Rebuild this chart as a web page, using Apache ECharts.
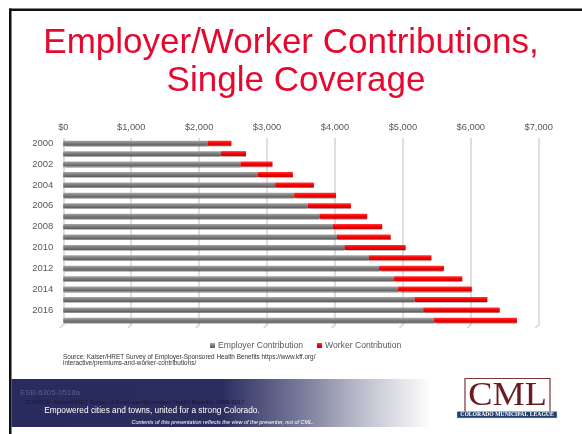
<!DOCTYPE html>
<html>
<head>
<meta charset="utf-8">
<script src="https://cdn.jsdelivr.net/npm/echarts@6/dist/echarts.min.js"></script>
<style>
  html, body { margin: 0; padding: 0; background: #ffffff; }
  #chart { width: 582px; height: 434px; }
</style>
</head>
<body>
<div id="chart"></div>
<script>
// Annual premium contributions, single coverage (US$)
var years = ['2000','2001','2002','2003','2004','2005','2006','2007','2008',
             '2009','2010','2011','2012','2013','2014','2015','2016','2017'];
var employerContribution = [2130, 2320, 2610, 2860, 3120, 3400, 3600, 3770, 3970,
                            4030, 4140, 4500, 4650, 4870, 4930, 5170, 5300, 5460];
var workerContribution = [345, 370, 470, 520, 570, 615, 635, 705, 725,
                          790, 900, 920, 955, 1005, 1085, 1075, 1125, 1220];
var xTicks = [0, 1000, 2000, 3000, 4000, 5000, 6000, 7000];

var FONT = '"Liberation Sans", Arial, sans-serif';
var SERIF = '"Liberation Serif", "DejaVu Serif", serif';

var chart = echarts.init(document.getElementById('chart'), null, { renderer: 'canvas' });

function moneyLabel(v) {
  return '$' + v.toLocaleString('en-US');
}

var option = {
  animation: false,
  backgroundColor: '#ffffff',
  textStyle: { fontFamily: FONT },
  grid: { left: 63.3, right: 43.3, top: 138, bottom: 108.5, containLabel: false },
  legend: {
    data: ['Employer Contribution', 'Worker Contribution'],
    left: 205,
    top: 336,
    icon: 'rect',
    itemWidth: 5,
    itemHeight: 5,
    itemGap: 14,
    textStyle: { fontSize: 8.6, color: '#595959', fontFamily: FONT, padding: [0, 0, 0, -2] }
  },
  xAxis: {
    type: 'value',
    position: 'top',
    min: 0,
    max: 7000,
    interval: 1000,
    axisLine: { show: false },
    axisTick: { show: false },
    axisLabel: {
      formatter: moneyLabel,
      fontSize: 9.3,
      color: '#595959',
      margin: 6,
      fontFamily: FONT
    },
    splitLine: { show: true, lineStyle: { color: '#d4d4d4', width: 1.5 } }
  },
  yAxis: {
    type: 'category',
    data: years,
    inverse: true,
    axisLine: { show: false },
    axisTick: { show: false },
    axisLabel: {
      interval: 1,
      fontSize: 9.5,
      color: '#595959',
      margin: 10,
      fontFamily: FONT
    }
  },
  series: [
    {
      name: 'Employer Contribution',
      type: 'bar',
      stack: 'total',
      barWidth: 5,
      data: employerContribution,
      itemStyle: {
        color: new echarts.graphic.LinearGradient(0, 0, 0, 1, [
          { offset: 0, color: '#a8a8a8' },
          { offset: 0.45, color: '#808080' },
          { offset: 1, color: '#5c5c5c' }
        ]),
        shadowColor: 'rgba(0,0,0,0.25)',
        shadowBlur: 1,
        shadowOffsetY: 1
      }
    },
    {
      name: 'Worker Contribution',
      type: 'bar',
      stack: 'total',
      barWidth: 5,
      data: workerContribution,
      itemStyle: {
        color: new echarts.graphic.LinearGradient(0, 0, 0, 1, [
          { offset: 0, color: '#ff3a3a' },
          { offset: 0.45, color: '#ff0000' },
          { offset: 1, color: '#c80000' }
        ]),
        shadowColor: 'rgba(0,0,0,0.25)',
        shadowBlur: 1,
        shadowOffsetY: 1
      }
    },
    {
      // small slanted floor marks under each vertical gridline
      type: 'custom',
      silent: true,
      data: xTicks.map(function (v) { return [v, 0]; }),
      renderItem: function (params, api) {
        var cs = params.coordSys;
        var x = api.coord([api.value(0), 0])[0];
        var bottom = cs.y + cs.height;
        return {
          type: 'line',
          shape: { x1: x, y1: bottom - 1, x2: x - 3.3, y2: bottom + 2.5 },
          style: { stroke: '#d4d4d4', lineWidth: 1.5 }
        };
      },
      z: 1
    }
  ],
  graphic: [
    // slide frame
    { type: 'rect', shape: { x: 9, y: 8.5, width: 573, height: 2.5 }, style: { fill: '#111111' }, silent: true },
    { type: 'rect', shape: { x: 9, y: 8.5, width: 2.5, height: 426 }, style: { fill: '#111111' }, silent: true },
    // title
    { type: 'text', silent: true,
      style: { text: 'Employer/Worker Contributions,', x: 291, y: 43, align: 'center', verticalAlign: 'middle',
               font: '35px ' + FONT, fill: '#e6092f' } },
    { type: 'text', silent: true,
      style: { text: 'Single Coverage', x: 296, y: 81.5, align: 'center', verticalAlign: 'middle',
               font: '35px ' + FONT, fill: '#e6092f' } },
    // source note
    { type: 'text', silent: true,
      style: { text: 'Source: Kaiser/HRET Survey of Employer-Sponsored Health Benefits https://www.kff.org/\ninteractive/premiums-and-worker-contributions/',
               x: 63, y: 353.5, verticalAlign: 'top', lineHeight: 6.6,
               font: '6.4px ' + FONT, fill: '#333333' } },
    // footer band
    { type: 'rect', silent: true, shape: { x: 11.5, y: 379, width: 420, height: 48 },
      style: { fill: new echarts.graphic.LinearGradient(0, 0, 1, 0, [
        { offset: 0, color: '#292b5c' },
        { offset: 0.5, color: '#2b2d5e' },
        { offset: 0.7, color: '#7d7f9e' },
        { offset: 0.85, color: '#c4c5d2' },
        { offset: 1, color: '#ffffff' }
      ]) } },
    { type: 'text', silent: true,
      style: { text: 'ESB-6305-0518a', x: 20, y: 393, verticalAlign: 'middle',
               font: '7.8px ' + FONT, fill: '#5d5f85' } },
    { type: 'text', silent: true,
      style: { text: 'SOURCE: Kaiser/HRET Survey of Employer-Sponsored Health Benefits, 1999-2017', x: 25, y: 402.3, verticalAlign: 'middle',
               font: '5.9px ' + FONT, fill: '#16183c' } },
    { type: 'text', silent: true,
      style: { text: 'Empowered cities and towns, united for a strong Colorado.', x: 44.3, y: 410.7, verticalAlign: 'middle',
               font: '8.3px ' + FONT, fill: '#ffffff' } },
    { type: 'text', silent: true,
      style: { text: 'Contents of this presentation reflects the view of the presenter, not of CML.', x: 131.5, y: 422, verticalAlign: 'middle',
               font: 'italic 5.5px ' + FONT, fill: '#ffffff' } },
    // CML logo
    { type: 'rect', silent: true, shape: { x: 465, y: 378.5, width: 85, height: 39 },
      style: { fill: '#ffffff', stroke: '#7d3535', lineWidth: 1.2 } },
    { type: 'text', silent: true, x: 507.5, y: 396, scaleX: 1.1, scaleY: 1,
      style: { text: 'CML', x: 0, y: 0, align: 'center', verticalAlign: 'middle',
               font: '33px ' + SERIF, fill: '#6a1b20' } },
    { type: 'rect', silent: true, shape: { x: 457, y: 411.5, width: 100, height: 6.5 },
      style: { fill: '#20406f', stroke: '#c8c8c8', lineWidth: 0.5 } },
    { type: 'text', silent: true,
      style: { text: 'COLORADO MUNICIPAL LEAGUE', x: 507, y: 415, align: 'center', verticalAlign: 'middle',
               font: 'bold 5.7px ' + SERIF, fill: '#ffffff' } }
  ]
};

chart.setOption(option);
</script>
</body>
</html>
